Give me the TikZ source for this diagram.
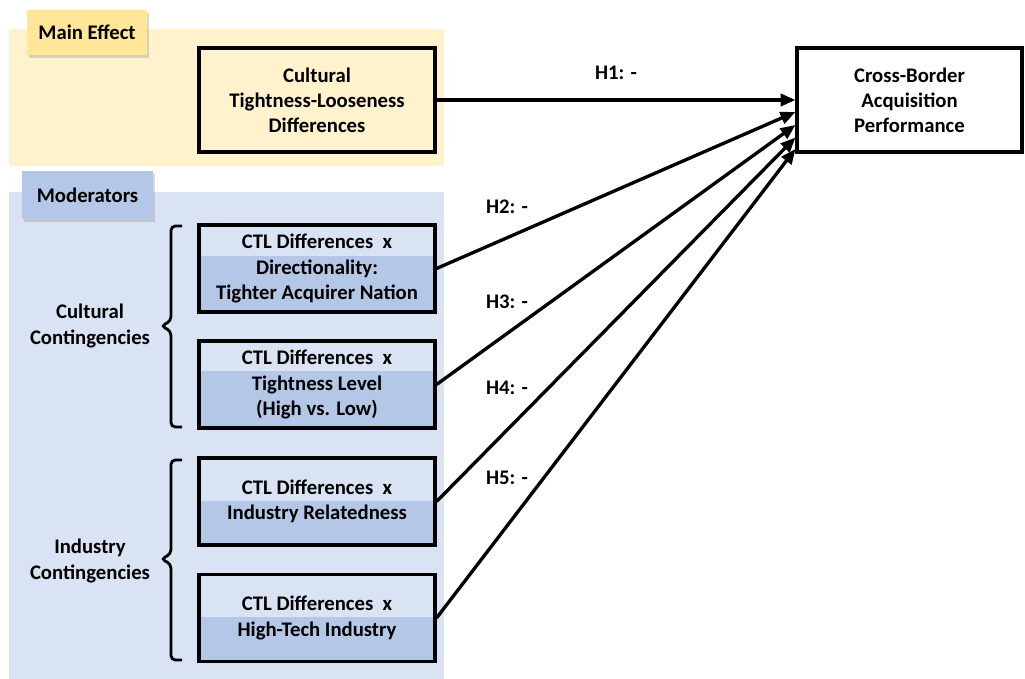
\documentclass[tikz,border=0pt]{standalone}
\usepackage{fontspec}
\setmainfont{Carlito}
\usetikzlibrary{positioning}
\usetikzlibrary{arrows.meta,shadows}
\definecolor{mainbg}{HTML}{FFF2CC}
\definecolor{maintag}{HTML}{FFE699}
\definecolor{modbg}{HTML}{DAE3F3}
\definecolor{modtag}{HTML}{B4C7E7}
\newcommand{\diagfont}{\fontsize{11.8}{14.3}\selectfont\bfseries}
\tikzset{tagbox/.style={minimum width=2.4cm,minimum height=0.9cm,font=\diagfont,
    drop shadow={shadow xshift=1.2pt,shadow yshift=-1.5pt,opacity=0.3}}}
\tikzset{plainbox/.style={draw,line width=1.8pt,minimum width=4.72cm,align=center,font=\diagfont}}
\tikzset{modbox/.style={plainbox,minimum height=1.74cm,fill=modbg,
    path picture={\fill[modtag] (path picture bounding box.south west)
      rectangle ([yshift=-#1]path picture bounding box.north east);}}}
\tikzset{hyparrow/.style={line width=1.9pt,-{Triangle[length=8.5pt,width=7pt]}}}
\tikzset{bracket/.style={line width=1.6pt,rounded corners=2.5pt}}

\begin{document}
\begin{tikzpicture}[x=0.02cm,y=-0.02cm]
        \useasboundingbox (0,0) rectangle (1025,679);

        % Panels
        \fill[mainbg] (9,29) rectangle (444,166);
        \fill[modbg] (9,192) rectangle (444,679);
        \node[tagbox,fill=maintag] (maineffect) at (87,32.5) {Main Effect};
        \node[tagbox,fill=modtag,minimum width=2.62cm,minimum height=0.96cm] (moderators) at (87.5,195) {Moderators};

        % Boxes
        \node[plainbox,fill=mainbg,minimum height=2.08cm] (ctl) at (317,100)
        {Cultural\\Tightness-Looseness\\Differences};
        \node[plainbox,fill=white,minimum width=4.5cm,minimum height=2.08cm] (perf) at (909.5,100)
        {Cross-Border\\Acquisition\\Performance};
        \node[modbox=0.62cm] (direction) at (317,268.5)
        {CTL Differences\ \ x\\Directionality:\\Tighter Acquirer Nation};
        \node[modbox=0.6cm] (level) at (317,384.5)
        {CTL Differences\ \ x\\Tightness Level\\(High vs. Low)};
        \node[modbox=0.86cm] (related) at (317,501.5)
        {CTL Differences\ \ x\\Industry Relatedness};
        \node[modbox=0.84cm] (hightech) at (317,618)
        {CTL Differences\ \ x\\High-Tech Industry};

        % Contingency groups
        \node[align=center,font=\diagfont] (cultural) at (90,326) {Cultural\\Contingencies};
        \node[align=center,font=\diagfont] (industry) at (90,561) {Industry\\Contingencies};
        \draw[bracket] (182,226) -- (171,226) -- (171,321) -- (161,326) -- (171,331) -- (171,427) -- (182,427);
        \draw[bracket] (182,460) -- (171,460) -- (171,554) -- (161,559) -- (171,564) -- (171,660) -- (182,660);

        % Hypotheses
        \draw[hyparrow] (ctl.east) -- (perf.west);
        \draw[hyparrow] (direction.east) -- ([yshift=-0.24cm]perf.west);
        \draw[hyparrow] (level.east) -- ([yshift=-0.5cm]perf.west);
        \draw[hyparrow] (related.east) -- ([yshift=-0.75cm]perf.west);
        \draw[hyparrow] (hightech.east) -- ([yshift=-0.98cm]perf.west);

        \node[font=\diagfont] (h1) at (616,73) {H1: -};
        \node[font=\diagfont] (h2) at (507,207) {H2: -};
        \node[font=\diagfont] (h3) at (507,302) {H3: -};
        \node[font=\diagfont] (h4) at (507,388) {H4: -};
        \node[font=\diagfont] (h5) at (507,478) {H5: -};
    \end{tikzpicture}
\end{document}
